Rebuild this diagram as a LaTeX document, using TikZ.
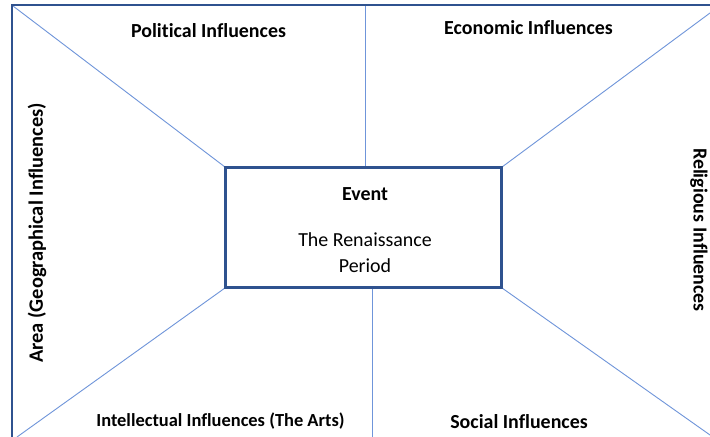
\documentclass[tikz,border=0pt]{standalone}
\usepackage{fontspec}
\setmainfont[Ligatures={NoCommon}]{Carlito}
\definecolor{frameblue}{HTML}{2F528F}
\definecolor{lineblue}{HTML}{6F95DA}
\begin{document}
\begin{tikzpicture}[x=1bp,y=-1bp,
  lbl/.style={font=\fontsize{20}{24}\selectfont\bfseries, inner sep=0pt},
  txt/.style={font=\fontsize{20}{24}\selectfont, inner sep=0pt},
  thin line/.style={draw=lineblue, line width=0.9bp},
  frame/.style={draw=frameblue, line width=1.8bp}]
\useasboundingbox (0,0) rectangle (710,437);
\fill[white] (0,0) rectangle (710,437);
% corner coordinates
\coordinate (tl) at (13,6);
\coordinate (tr) at (710,13);
\coordinate (bl) at (17,437);
\coordinate (br) at (710,435);
\coordinate (vt) at (365,6);
\coordinate (vb) at (372,437);
% center box
\node[frame, fill=white, minimum width=275bp, minimum height=119bp, inner sep=0pt] (box) at (363.5,227.5) {};
\coordinate (bvt) at (365,168);
\coordinate (bvb) at (372,287);
% connectors
\draw[thin line] (tl) -- (box.north west);
\draw[thin line] (tr) -- (box.north east);
\draw[thin line] (bl) -- (box.south west);
\draw[thin line] (br) -- (box.south east);
\draw[thin line] (vt) -- (bvt);
\draw[thin line] (vb) -- (bvb);
% redraw box border on top
\draw[frame] (box.north west) rectangle (box.south east);
% outer frame (right and bottom lie beyond the picture)
\draw[frame] (12,437) -- (12,5) -- (710,5);
% texts
\node[lbl] (pol) at (208.5,31) {Political Influences};
\node[lbl] (eco) at (528.5,28) {Economic Influences};
\node[lbl, font=\fontsize{20.5}{24}\selectfont\bfseries, rotate=90] (area) at (37,233) {Area (Geographical Influences)};
\node[lbl, rotate=-90] (rel) at (699,230) {Religious Influences};
\node[lbl, font=\fontsize{18.5}{22}\selectfont\bfseries] (int) at (220.5,421) {Intellectual Influences (The Arts)};
\node[lbl] (soc) at (519,422) {Social Influences};
\node[lbl] (ev) at (365,194) {Event};
\node[txt] (ren) at (365,240) {The Renaissance};
\node[txt] (per) at (365,266) {Period};
\end{tikzpicture}
\end{document}
